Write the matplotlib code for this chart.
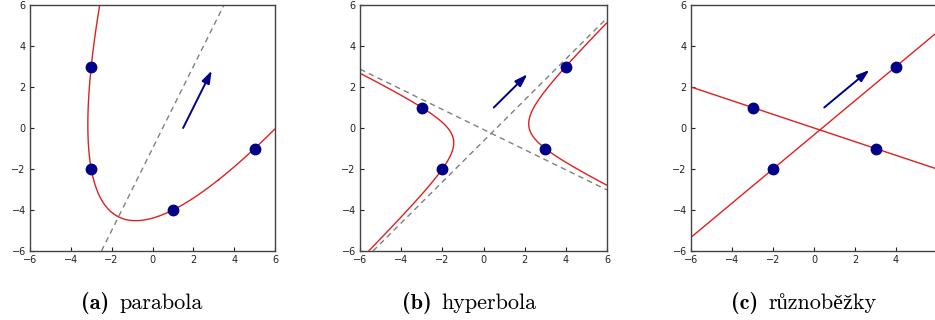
import numpy as np
import matplotlib
matplotlib.use('Agg')
from matplotlib import pyplot as plt

# points the conics pass through
pa_x = [-3, -3, 1, 5]
pa_y = [3, -2, -4, -1]
pb_x = [-3, -2, 3, 4]
pb_y = [1, -2, -1, 3]

# conic coefficients A x^2 + B xy + C y^2 + D x + E y + F = 0
conic_a = [4, -4, 1, -11.5, -13, -76.5]
conic_b = [27, 28, -55, -13, -39, -104]

# parabola axis (point, slope) and hyperbola asymptotes
axis_a = ((0, -1), 2.0)
center_b = (0.375, -0.259)
asym_slopes_b = [1.0, -0.491]

# arrows: start and vector
arrow_a = (1.5, 0.0, 1.4, 2.8)
arrow_b = (0.5, 1.0, 1.63, 1.62)
arrow_c = (0.5, 1.0, 2.2, 1.83)

ticks = [-6, -4, -2, 0, 2, 4, 6]
captions = [('(a)', 'parabola'), ('(b)', 'hyperbola'), ('(c)', 'různoběžky')]

RED = '#e02020'
BLUE = '#000088'

fig = plt.figure(figsize=(9.35, 3.2), dpi=100)
ax_a = fig.add_axes([30/935, 69/320, 245/935, 246/320])
ax_b = fig.add_axes([360/935, 69/320, 247/935, 246/320])
ax_c = fig.add_axes([691/935, 69/320, 246/935, 246/320])

g = np.linspace(-6, 6, 801)
X, Y = np.meshgrid(g, g)


def conic(c):
    A, B, C, D, E, F = c
    return A*X**2 + B*X*Y + C*Y**2 + D*X + E*Y + F


def arrow(ax, a):
    x, y, dx, dy = a
    ax.annotate('', xy=(x+dx, y+dy), xytext=(x, y),
                arrowprops=dict(arrowstyle='-|>,head_length=0.75,head_width=0.25',
                                color=BLUE, lw=1.4, shrinkA=0, shrinkB=0))


for ax in (ax_a, ax_b, ax_c):
    ax.set_xlim(-6, 6)
    ax.set_ylim(-6, 6)
    ax.set_xticks(ticks)
    ax.set_yticks(ticks)
    ax.tick_params(labelsize=7, length=3, width=0.8, direction='in',
                   top=False, right=False, colors='#222222', pad=3)
    for s in ax.spines.values():
        s.set_color('#444444')
        s.set_linewidth(1.0)

# last x label of (c) falls off the figure in the original
ax_c.set_xticks(ticks, [str(t).replace('-', '\u2212') for t in ticks[:-1]] + [''])

# (a) parabola
ax_a.axline(axis_a[0], slope=axis_a[1], color='gray', ls='--', lw=1, dashes=(4, 3))
ax_a.contour(X, Y, conic(conic_a), levels=[0], colors=RED, linewidths=1)
arrow(ax_a, arrow_a)
ax_a.plot(pa_x, pa_y, 'o', color=BLUE, ms=7.5, zorder=5)

# (b) hyperbola
for m in asym_slopes_b:
    ax_b.axline(center_b, slope=m, color='gray', ls='--', lw=1, dashes=(4, 3))
ax_b.contour(X, Y, conic(conic_b), levels=[0], colors=RED, linewidths=1)
arrow(ax_b, arrow_b)
ax_b.plot(pb_x, pb_y, 'o', color=BLUE, ms=7.5, zorder=5)

# (c) two intersecting lines
ax_c.axline((pb_x[0], pb_y[0]), (pb_x[2], pb_y[2]), color=RED, lw=1)
ax_c.axline((pb_x[1], pb_y[1]), (pb_x[3], pb_y[3]), color=RED, lw=1)
arrow(ax_c, arrow_c)
ax_c.plot(pb_x, pb_y, 'o', color=BLUE, ms=7.5, zorder=5)

# captions: bold label, then the name right after it
lab_x = [81, 402, 731]
for (lab, name), lx in zip(captions, lab_x):
    a = fig.text(lx/935, 11/320, lab, fontsize=16, fontweight='bold',
                 family=['cmb10', 'Liberation Serif'], ha='left', va='baseline')
    fig.canvas.draw()
    bb = a.get_window_extent()
    fig.text((bb.x1 + 10)/935, 11/320, name, fontsize=16,
             family=['cmr10', 'Liberation Serif'], ha='left', va='baseline')

fig.savefig('out.png', dpi=100)
